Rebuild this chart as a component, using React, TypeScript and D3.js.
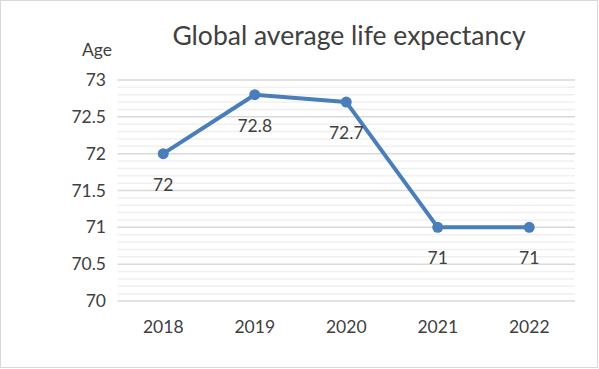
import React from 'react';
import * as d3 from 'd3';

const years = ['2018', '2019', '2020', '2021', '2022'];
const ages = [72, 72.8, 72.7, 71, 71];
const yTicks = [70, 70.5, 71, 71.5, 72, 72.5, 73];

const W = 599;
const H = 369;
const FONT = 'Lato, Carlito, "Open Sans", sans-serif';

export default function App() {
  const x = d3.scaleBand().domain(years).range([117.5, 575]);
  const y = d3.scaleLinear().domain([70, 73]).range([301, 80]);

  // minor lines every 0.1
  const minor = d3.range(0, 31).map(i => 70 + i / 10).filter(v => Math.round(v * 10) % 5 !== 0);

  const line = d3.line<number>()
    .x((d, i) => (x(years[i]) as number) + x.bandwidth() / 2)
    .y(d => y(d));

  return (
    <svg width={W} height={H} style={{ position: 'absolute', left: 0, top: 0 }}>
      <rect x={0.5} y={0.5} width={W - 2} height={H - 2} fill="#fff" stroke="#d9d9d9" />
      <text x={349} y={45} textAnchor="middle" fontFamily={FONT} fontSize={26.5} fill="#404040">
        Global average life expectancy
      </text>
      <text x={97} y={56} textAnchor="middle" fontFamily={FONT} fontSize={17.5} fill="#404040">Age</text>

      {minor.map(v => (
        <line key={'m' + v} x1={117.5} x2={575} y1={y(v)} y2={y(v)} stroke="#f0f0f0" strokeWidth={1.5} />
      ))}
      {yTicks.map(v => (
        <g key={v}>
          <line x1={117.5} x2={575} y1={y(v)} y2={y(v)} stroke="#d9d9d9" strokeWidth={1.5} />
          <text x={106} y={y(v) + 6} textAnchor="end" fontFamily={FONT} fontSize={17.5} fill="#404040">
            {v}
          </text>
        </g>
      ))}
      {years.map(yr => (
        <text key={yr} x={(x(yr) as number) + x.bandwidth() / 2} y={333} textAnchor="middle"
          fontFamily={FONT} fontSize={17.5} fill="#404040">{yr}</text>
      ))}

      <path d={line(ages) || ''} fill="none" stroke="#4a7ebb" strokeWidth={4} strokeLinejoin="round" />
      {ages.map((a, i) => {
        const cx = (x(years[i]) as number) + x.bandwidth() / 2;
        return (
          <g key={i}>
            <circle cx={cx} cy={y(a)} r={5.5} fill="#4a7ebb" />
            <text x={cx} y={y(a) + 37} textAnchor="middle" fontFamily={FONT} fontSize={17.5} fill="#404040">
              {a}
            </text>
          </g>
        );
      })}
    </svg>
  );
}
